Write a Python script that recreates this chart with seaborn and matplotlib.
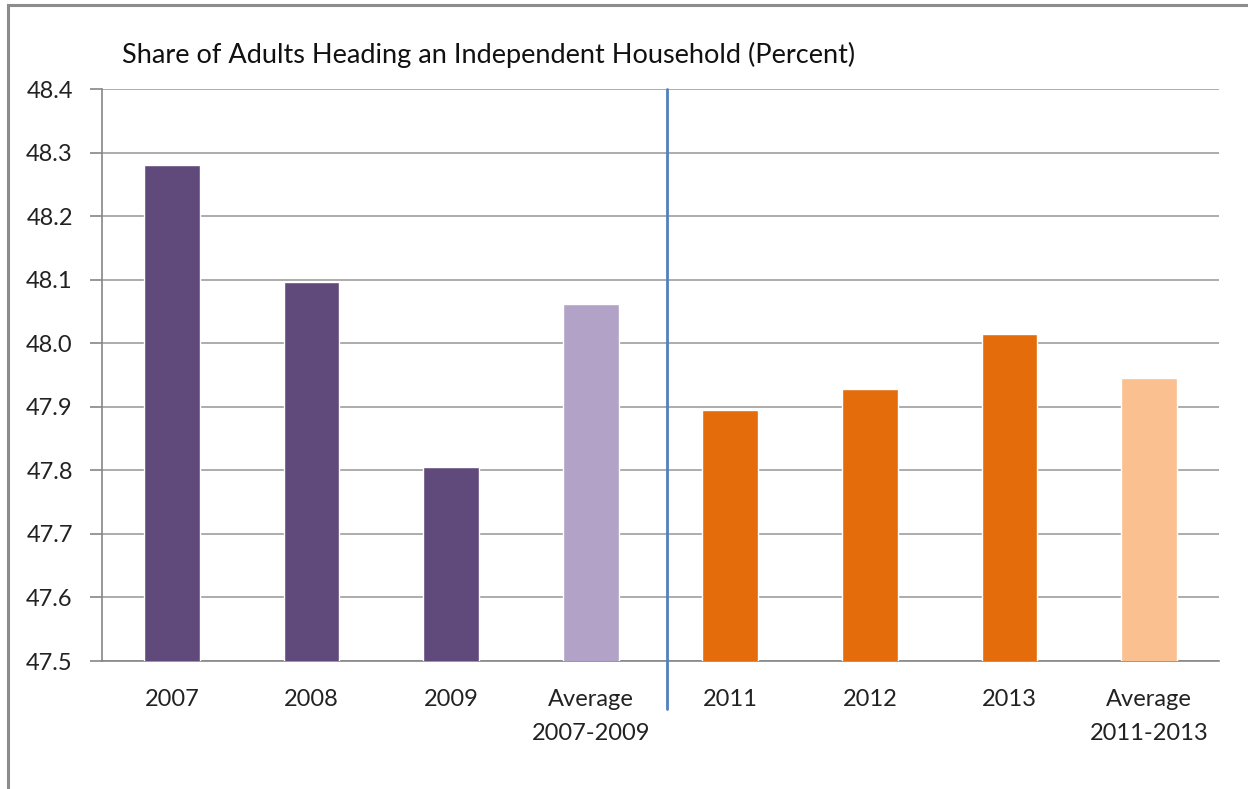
import numpy as np
import pandas as pd
import matplotlib.pyplot as plt
import matplotlib.patches as mpatches
import seaborn as sns

# values
categories = ["2007", "2008", "2009", "Average\n2007-2009",
              "2011", "2012", "2013", "Average\n2011-2013"]
share = [48.28, 48.096, 47.805, 48.062, 47.895, 47.928, 48.015, 47.946]
bar_colors = ["#604a7b", "#604a7b", "#604a7b", "#b3a2c7",
              "#e46c0a", "#e46c0a", "#e46c0a", "#fac090"]
y_ticks = [47.5, 47.6, 47.7, 47.8, 47.9, 48.0, 48.1, 48.2, 48.3, 48.4]

df = pd.DataFrame({"category": categories, "share": share})

sns.set_style("white")
plt.rcParams['font.family'] = ['Lato', 'DejaVu Sans']

fig = plt.figure(figsize=(12.48, 7.89), dpi=100)
ax = fig.add_axes([102 / 1248, 1 - 661 / 789, (1219 - 102) / 1248, (661 - 89) / 789])

sns.barplot(data=df, x="category", y="share", hue="category",
            palette=bar_colors, width=0.4, legend=False, ax=ax,
            saturation=1, zorder=3)

ax.set_ylim(47.5, 48.4)
ax.set_xlim(-0.5, len(categories) - 0.5)
ax.set_yticks(y_ticks)
ax.set_yticklabels([f"{v:.1f}" for v in y_ticks], fontsize=17, color="#222222")
ax.yaxis.grid(True, color="#a6a6a6", linewidth=1.3, zorder=0)
ax.set_axisbelow(True)

# category labels on major ticks, boundary ticks as minor
ax.set_xticks(range(len(categories)))
ax.set_xticklabels(categories, fontsize=17, color="#222222", linespacing=1.75)
ax.set_xticks(np.arange(-0.5, len(categories)), minor=True)
ax.tick_params(axis="x", which="major", length=0, pad=20)
ax.tick_params(axis="x", which="minor", length=8, color="#868686", width=1.2)
ax.tick_params(axis="y", length=9, color="#868686", width=1.2, pad=12, left=True)
ax.set_xlabel("")
ax.set_ylabel("")

for side in ["top", "right"]:
    ax.spines[side].set_visible(False)
for side in ["left", "bottom"]:
    ax.spines[side].set_color("#868686")
    ax.spines[side].set_linewidth(1.2)

# divider between the two periods
ax.plot([3.547, 3.547], [48.4, 47.425], color="#4f81bd", linewidth=2,
        clip_on=False, zorder=4)

fig.text(122 / 1248, 1 - 55 / 789,
         "Share of Adults Heading an Independent Household (Percent)",
         fontsize=19.5, color="#111111", va="center", ha="left")

# outer chart border (left and top edges visible)
fig.patches.append(mpatches.Rectangle((8 / 1248, -0.1), 1.2, 1.1 - 5 / 789,
                                      transform=fig.transFigure, fill=False,
                                      edgecolor="#8c8c8c", linewidth=2.2))

fig.savefig("out.png", dpi=100)
